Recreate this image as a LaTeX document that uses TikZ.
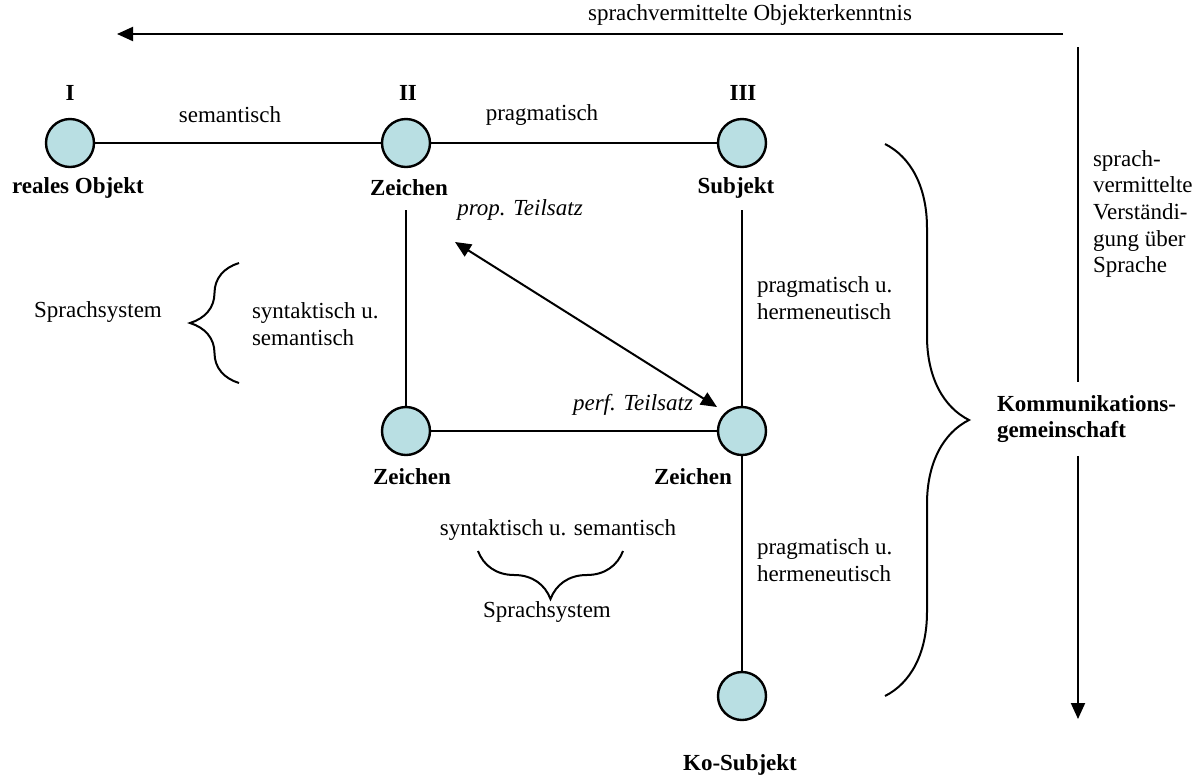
\documentclass[tikz,border=0pt]{standalone}
\usepackage{fontspec}
\setmainfont{Liberation Serif}
\usetikzlibrary{arrows.meta,decorations.pathreplacing}
\definecolor{knot}{RGB}{185,223,227}

\begin{document}
\begin{tikzpicture}[x=0.5pt,y=-0.5pt,line width=1pt,
    font=\fontsize{11.5}{13.3}\selectfont,
    station/.style={circle,draw,line width=1.2pt,fill=knot,minimum size=24pt,inner sep=0pt},
    lbl/.style={inner sep=0pt},
    bold/.style={inner sep=0pt,font=\fontsize{11.5}{13.3}\selectfont\bfseries},
    slant/.style={inner sep=0pt,font=\fontsize{11.5}{13.3}\selectfont\itshape},
    tip/.style={-{Triangle[length=8pt,width=7pt]}},
    curly/.style={decorate,decoration={brace,amplitude=#1}}]

    \useasboundingbox (0,0) rectangle (1201,778);

    % Stations
    \node[station] (obj) at (70,143) {};
    \node[station] (zI) at (406,143) {};
    \node[station] (subj) at (742,143) {};
    \node[station] (zL) at (406,431) {};
    \node[station] (zR) at (742,431) {};
    \node[station] (ko) at (742,696) {};

    % Station labels
    \node[bold] (nI) at (70,93) {I};
    \node[bold] (nII) at (408,93) {II};
    \node[bold] (nIII) at (743,93) {III};
    \node[bold] (tobj) at (78,188) {reales Objekt};
    \node[bold] (tzI) at (409,188) {Zeichen};
    \node[bold] (tsubj) at (736,188) {Subjekt};
    \node[bold] (tzL) at (412,477) {Zeichen};
    \node[bold] (tzR) at (693,477) {Zeichen};
    \node[bold] (tko) at (740,765) {Ko-Subjekt};

    % Square
    \coordinate (zIdown) at (406,210);
    \coordinate (subjdown) at (742,210);
    \draw (obj) -- (zI);
    \draw (zI) -- (subj);
    \draw (zIdown) -- (zL);
    \draw (subjdown) -- (zR);
    \draw (zL) -- (zR);
    \draw (zR) -- (ko);

    % Diagonal
    \coordinate (propend) at (455,242);
    \coordinate (perfend) at (717,407);
    \draw[{Triangle[length=8pt,width=7pt]}-{Triangle[length=8pt,width=7pt]}] (propend) -- (perfend);

    \node[lbl] (tsem) at (230,115) {semantisch};
    \node[lbl] (tprag) at (542,115) {pragmatisch};
    \node[slant] (tprop) at (520,210) {prop. Teilsatz};
    \node[slant] (tperf) at (633,405) {perf. Teilsatz};
    \node[lbl,align=left,anchor=west] (tsynA) at (251,324) {syntaktisch u.\\semantisch};
    \node[lbl] (tsysA) at (98,312) {Sprachsystem};
    \node[lbl,align=left,anchor=west] (tpragA) at (756,298) {pragmatisch u.\\hermeneutisch};
    \node[lbl,align=left,anchor=west] (tpragB) at (756,560) {pragmatisch u.\\hermeneutisch};
    \node[lbl] (tsynB) at (558,530) {syntaktisch u. semantisch};
    \node[lbl] (tsysB) at (547,612) {Sprachsystem};

    % Braces
    \draw[curly=24.5pt] (239,383) -- (239,263);
    \draw[curly=24pt] (623,551) -- (478,551);
    \draw[curly=42pt] (885,144) -- (885,696);

    % Outer arrows
    \coordinate (ktop) at (1063,34);
    \coordinate (kend) at (117,34);
    \draw[tip] (ktop) -- (kend);
    \node[lbl] (tobjerk) at (750,15) {sprachvermittelte Objekterkenntnis};

    \coordinate (vtop) at (1078,47);
    \coordinate (vbot) at (1078,719);
    \node[bold,align=left,anchor=west,inner ysep=6pt] (komm) at (996,419) {Kommunikations-\\gemeinschaft};
    \draw (vtop) -- (vtop |- komm.north);
    \draw[tip] (vtop |- komm.south) -- (vbot);
    \node[lbl,align=left,anchor=west] (tverst) at (1092,214) {sprach-\\vermittelte\\Verständi-\\gung über\\Sprache};
\end{tikzpicture}
\end{document}
